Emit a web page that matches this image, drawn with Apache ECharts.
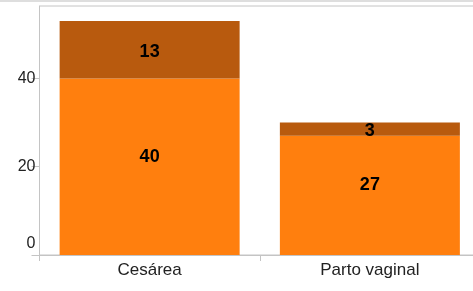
<!DOCTYPE html>
<html>
<head>
<meta charset="utf-8">
<script src="https://cdn.jsdelivr.net/npm/echarts@6/dist/echarts.min.js"></script>
<style>
  html, body { margin: 0; padding: 0; background: #fff; }
  #chart { width: 473px; height: 291px; }
</style>
</head>
<body>
<div id="chart"></div>
<script>
  // categorias e valores
  var categories = ['Cesárea', 'Parto vaginal'];
  var lowerValues = [40, 27];
  var upperValues = [13, 3];
  var yTicks = [0, 20, 40];

  var chart = echarts.init(document.getElementById('chart'));

  var option = {
    animation: false,
    textStyle: { fontFamily: 'Liberation Sans, Arial, sans-serif' },
    graphic: [{
      type: 'rect',
      left: 0, top: 0,
      shape: { width: 473, height: 2 },
      style: { fill: '#dedede' }
    }],
    grid: {
      left: 39.5,
      right: -7,
      top: 6,
      bottom: 36,
      outerBoundsMode: 'none',
      show: true,
      borderColor: '#c4c4c4',
      borderWidth: 1
    },
    xAxis: {
      type: 'category',
      data: categories,
      axisLine: { show: true, lineStyle: { color: '#c4c4c4' } },
      axisTick: { show: true, alignWithLabel: false, length: 6, lineStyle: { color: '#c4c4c4' } },
      axisLabel: { color: '#222', fontSize: 17, margin: 7 }
    },
    yAxis: {
      type: 'value',
      min: 0,
      max: 56.4,
      interval: 20,
      splitLine: { show: false },
      axisLine: { show: true, lineStyle: { color: '#c4c4c4' } },
      axisTick: { show: true, length: 8, customValues: yTicks, lineStyle: { color: '#c4c4c4' } },
      axisLabel: {
        customValues: yTicks,
        color: '#222',
        fontSize: 16,
        margin: 4,
        formatter: function (v) {
          // o rótulo 0 fica um pouco acima do eixo
          return v === 0 ? '{z|0}' : String(v);
        },
        rich: { z: { fontSize: 16, color: '#222', padding: [0, 0, 22, 0] } }
      }
    },
    series: [
      {
        type: 'bar',
        stack: 'total',
        barWidth: 180,
        data: lowerValues,
        itemStyle: { color: '#ff7f0e' },
        label: {
          show: true,
          position: 'inside',
          offset: [0, -10],
          color: '#000',
          fontSize: 18,
          fontWeight: 'bold'
        }
      },
      {
        type: 'bar',
        stack: 'total',
        barWidth: 180,
        data: upperValues,
        itemStyle: { color: '#b85a0e' },
        label: {
          show: true,
          position: 'inside',
          offset: [0, 2],
          color: '#000',
          fontSize: 18,
          fontWeight: 'bold'
        }
      }
    ]
  };

  chart.setOption(option);
</script>
</body>
</html>
